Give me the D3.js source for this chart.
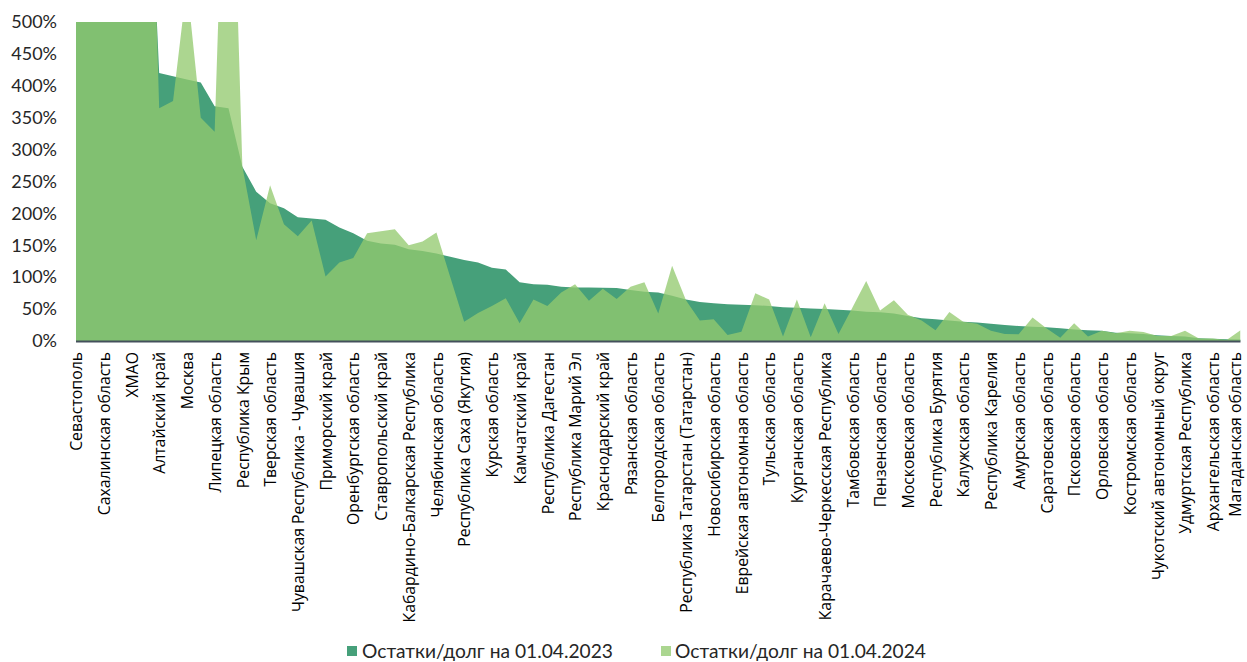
<!DOCTYPE html>
<html>
<head>
<meta charset="utf-8">
<script src="https://cdn.jsdelivr.net/npm/d3@7"></script>
<style>
  html, body { margin: 0; padding: 0; background: #fff; }
  svg { display: block; }
</style>
</head>
<body>
<svg id="chart" width="1247" height="662"></svg>
<script>
// Tick labels (every second region is labelled on the axis)
const tickLabels = [
  "Севастополь", "Сахалинская область", "ХМАО", "Алтайский край", "Москва",
  "Липецкая область", "Республика Крым", "Тверская область",
  "Чувашская Республика - Чувашия", "Приморский край", "Оренбургская область",
  "Ставропольский край", "Кабардино-Балкарская Республика", "Челябинская область",
  "Республика Саха (Якутия)", "Курская область", "Камчатский край",
  "Республика Дагестан", "Республика Марий Эл", "Краснодарский край",
  "Рязанская область", "Белгородская область", "Республика Татарстан (Татарстан)",
  "Новосибирская область", "Еврейская автономная область", "Тульская область",
  "Курганская область", "Карачаево-Черкесская Республика", "Тамбовская область",
  "Пензенская область", "Московская область", "Республика Бурятия",
  "Калужская область", "Республика Карелия", "Амурская область",
  "Саратовская область", "Псковская область", "Орловская область",
  "Костромская область", "Чукотский автономный округ", "Удмуртская Республика",
  "Архангельская область", "Магаданская область"
];

const seriesNames = ["Остатки/долг на 01.04.2023", "Остатки/долг на 01.04.2024"];

// Values in % (first points exceed the 500% axis maximum and are clipped)
const values2023 = [
  1700, 1400, 1200, 1100, 1000, 900, 420, 415, 410, 405,
  368, 365, 273, 234, 216, 208, 194, 192, 190, 178,
  169, 157, 153, 151, 144, 141, 137, 132, 127, 123,
  115, 112, 92, 89, 88, 85, 84, 84, 83.5, 83,
  80, 77, 76, 71, 65, 61, 59, 57.5, 57, 56,
  55, 53, 52, 51, 50, 49, 48, 46, 45, 43,
  39, 35.5, 34, 32, 30, 29, 27, 25, 23.5, 22.5,
  21.5, 20, 18, 17, 16, 13, 12, 11, 9, 8,
  7, 4.5, 3.7, 2.6, 2.5
];

const values2024 = [
  1600, 1900, 1300, 1500, 1200, 1100, 365, 376, 560, 350,
  328, 1000, 274, 158, 244, 183, 164, 189, 101, 123,
  130, 169, 172, 175, 150, 156, 170, 100, 30, 44,
  55, 67, 28, 65, 55, 76, 89, 63, 82, 66,
  85, 92, 43, 118, 64, 32, 34, 9.4, 14.6, 75,
  65, 7, 65, 6, 59, 11, 52, 94, 48, 64,
  41, 32, 17, 45.5, 30, 27, 16, 11, 10.5, 37,
  20, 5, 28, 7, 16, 12, 16, 14, 8, 8,
  16, 4, 4, 1.5, 17
];

const yTicks = [0, 50, 100, 150, 200, 250, 300, 350, 400, 450, 500];

const svg = d3.select("#chart");
const xLeft = 76, xRight = 1240.5, yTop = 22, yBottom = 341;

const x = d3.scaleLinear().domain([0, values2023.length - 1]).range([xLeft, xRight]);
const y = d3.scaleLinear().domain([0, 500]).range([yBottom, yTop]);

svg.append("defs").append("clipPath").attr("id", "plotClip")
  .append("rect").attr("x", xLeft).attr("y", yTop)
  .attr("width", xRight - xLeft).attr("height", yBottom - yTop);

const area = d3.area()
  .x((d, i) => x(i))
  .y0(y(0))
  .y1(d => y(d));

const plot = svg.append("g").attr("clip-path", "url(#plotClip)");
plot.append("path").datum(values2023)
  .attr("d", area)
  .attr("fill", "#46a07a");
plot.append("path").datum(values2024)
  .attr("d", area)
  .attr("fill", "rgb(147,202,111)")
  .attr("fill-opacity", 0.77);

// Y axis (labels only)
const yAxis = d3.axisLeft(y).tickValues(yTicks).tickFormat(d => d + "%").tickSize(0).tickPadding(0);
const gy = svg.append("g").attr("transform", "translate(57,0)").call(yAxis);
gy.select(".domain").remove();
gy.selectAll("text")
  .attr("fill", "#262626")
  .style("font-family", "Lato, 'Liberation Sans', sans-serif")
  .style("font-size", "18px");

// X axis
const lastTick = values2023.length - 1;
const xAxis = d3.axisBottom(x)
  .tickValues(d3.range(0, values2023.length, 2))
  .tickFormat(i => tickLabels[i / 2])
  .tickSize(0);
const gx = svg.append("g").attr("transform", `translate(0,${yBottom})`).call(xAxis);
gx.select(".domain").remove();
gx.selectAll("text")
  .attr("transform", "rotate(-90)")
  .attr("x", -11)
  .attr("y", d => d === lastTick ? -6 : 0)
  .attr("dy", "0.36em")
  .style("text-anchor", "end")
  .attr("fill", "#000")
  .style("font-family", "'Open Sans', 'Noto Sans', sans-serif")
  .style("font-size", "15.8px");

svg.append("line")
  .attr("x1", xLeft).attr("x2", xRight)
  .attr("y1", yBottom + 0.5).attr("y2", yBottom + 0.5)
  .attr("stroke", "#44505c").attr("stroke-width", 2);

// Legend
const legendItems = [
  { name: seriesNames[0], color: "#46a07a", sx: 347, tx: 362 },
  { name: seriesNames[1], color: "#abd690", sx: 661, tx: 675 }
];
const lg = svg.append("g");
legendItems.forEach(it => {
  lg.append("rect").attr("x", it.sx).attr("y", 646).attr("width", 10).attr("height", 10).attr("fill", it.color);
  lg.append("text").attr("x", it.tx).attr("y", 651).attr("dy", "0.35em")
    .text(it.name)
    .attr("fill", "#262626")
    .style("font-family", "Lato, 'Liberation Sans', sans-serif")
    .style("font-size", "19.2px");
});
</script>
</body>
</html>
